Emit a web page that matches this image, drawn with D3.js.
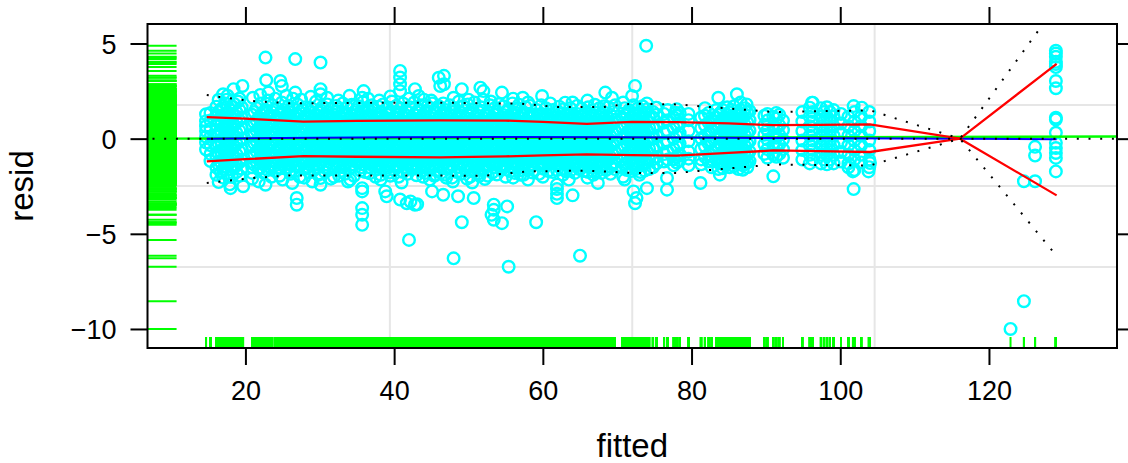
<!DOCTYPE html>
<html>
<head>
<meta charset="utf-8">
<script src="https://cdn.jsdelivr.net/npm/d3@7"></script>
<style>
  html, body { margin: 0; padding: 0; background: #ffffff; }
  svg { display: block; font-family: "Liberation Sans", Arial, Helvetica, sans-serif; }
</style>
</head>
<body>
<svg id="chart" width="1128" height="463"></svg>
<script>
// ---- data: residuals (in hundredths) grouped by fitted value ----
const colsLeft = [
  [14.7, [128, 92, 40, 10, -20, -57, 65]],
  [15.3, [135, 95, 52, 10, -35, -80, -118]],
  [16.1, [-152, -97, -41, 14, 69, 124, 168, -190]],
  [16.4, [-137, -80, -27, 30, 85, 140, 205, -228]],
  [16.7, [-124, -69, -12, 43, 98, 155, -175]],
  [17.0, [-160, -108, -55, 2, 57, 112, 160, -205]],
  [17.3, [-149, -94, -39, 16, 71, 126, 185]],
  [17.6, [-135, -82, -25, 28, 83, 138, -182, 226]],
  [17.9, [-122, -67, -14, 41, 96, 152, -240]],
  [18.2, [-162, -110, -53, 0, 55, 110, 170, -200]],
  [18.5, [-151, -96, -41, 14, 70, 124, 182]],
  [18.8, [-138, -83, -27, 30, 85, 138, -175]],
  [19.2, [-124, -69, -14, 41, 96, 150, -195, 210]],
  [19.5, [-158, -109, -55, 2, 57, 112, 165]]
];

const colsA = [
  [20.9, [-150, -95, -40, 15, 70, 125, -180]],
  [21.2, [-137, -82, -25, 30, 84, 140]],
  [21.5, [-122, -68, -14, 42, 96, 160]],
  [21.8, [-108, -53, 2, 55, 111, -160]],
  [22.1, [-151, -96, -39, 16, 71, 126, 185]],
  [22.4, [-135, -80, -27, 28, 85, 138, -178]],
  [22.7, [-124, -67, -12, 43, 98, 152]],
  [23.0, [-110, -55, 0, 57, 112, -165, 200]],
  [23.3, [-149, -94, -41, 14, 69, 124]],
  [23.6, [-136, -81, -26, 29, 84, 139, 175]],
  [24.0, [-123, -68, -13, 42, 97, -170]],
  [24.3, [-109, -54, 1, 56, 111, 158]],
  [24.6, [-152, -95, -40, 15, 72, 125, -195]],
  [24.9, [-135, -82, -25, 30, 83, 140, 190]],
  [25.2, [-122, -69, -12, 41, 98, 150]],
  [25.5, [-108, -53, 3, 55, 110, -158]],
  [25.8, [-150, -96, -40, 16, 70, 126, 172]],
  [26.1, [-137, -80, -26, 28, 85, 138, -185]],
  [26.4, [-124, -68, -14, 43, 96, 158, 210]],
  [26.7, [-110, -54, 0, 57, 112, -170]],
  [27.0, [-149, -95, -39, 15, 71, 124, 180]],
  [27.3, [-136, -81, -27, 29, 84, 139, -200]],
  [27.7, [-123, -67, -13, 42, 97, 152]],
  [28.0, [-109, -55, 1, 56, 111, 165, -160]],
  [28.3, [-151, -94, -40, 14, 70, 125]],
  [28.6, [-135, -82, -25, 30, 85, 140, -178]],
  [28.9, [-122, -68, -12, 41, 98, 160]],
  [29.2, [-108, -53, 2, 55, 110, -165]],
  [29.5, [-150, -96, -41, 16, 69, 126, 195]],
  [29.8, [-137, -80, -26, 28, 84, 138, -190]],
  [30.1, [-124, -69, -13, 43, 96, 150]],
  [30.4, [-110, -54, 0, 57, 112, 168]],
  [30.7, [-149, -95, -40, 15, 71, 124, -175]],
  [31.0, [-136, -81, -27, 29, 83, 139, 180]],
  [31.3, [-123, -67, -14, 42, 97, -162]],
  [31.6, [-109, -55, 1, 56, 111, 158]],
  [31.9, [-152, -94, -39, 14, 70, 125, -200]],
  [32.2, [-135, -82, -25, 30, 85, 140, 172]],
  [32.5, [-122, -68, -12, 41, 98, 155]],
  [32.8, [-108, -53, 3, 55, 110, -170]],
  [33.1, [-150, -96, -40, 16, 70, 126, 185]],
  [33.4, [-137, -80, -26, 28, 84, 138, -185]],
  [33.7, [-124, -69, -13, 43, 96, 165]],
  [34.0, [-110, -54, 0, 57, 112, -158]],
  [34.3, [-149, -95, -41, 15, 71, 124, 178]],
  [34.6, [-136, -81, -27, 29, 85, 139, -195]],
  [34.9, [-123, -67, -14, 42, 97, 150]],
  [35.2, [-109, -55, 2, 56, 111, 170]],
  [35.5, [-151, -94, -40, 14, 69, 125, -168]],
  [35.8, [-135, -82, -25, 30, 84, 140, 192]],
  [36.1, [-122, -68, -12, 41, 98, -175]],
  [36.4, [-108, -53, 1, 55, 110, 160]],
  [36.7, [-150, -96, -39, 16, 70, 126, -182]],
  [37.0, [-137, -80, -26, 28, 83, 138, 175]],
  [37.3, [-124, -69, -13, 43, 96, 155]],
  [37.6, [-110, -54, 0, 57, 112, -162]],
  [37.9, [-149, -95, -40, 15, 71, 124, 168]],
  [38.2, [-136, -81, -27, 29, 85, 139, -190]],
  [38.5, [-123, -67, -14, 42, 97, 180]],
  [38.8, [-109, -55, 2, 56, 111, -170]],
  [39.1, [-152, -94, -41, 14, 70, 125, 160]],
  [39.4, [-135, -82, -25, 30, 84, 140, -178]],
  [39.7, [-122, -68, -12, 41, 98, 195]],
  [40.0, [-108, -53, 3, 55, 110, -165]],
  [40.3, [-150, -96, -40, 16, 69, 126, 172]],
  [40.6, [-137, -80, -26, 28, 85, 138, -200]],
  [40.9, [-124, -69, -13, 43, 96, 158]],
  [41.2, [-110, -54, 0, 57, 112, -175, 185]],
  [41.5, [-149, -95, -39, 15, 71, 124]],
  [41.8, [-136, -81, -27, 29, 83, 139, -185]],
  [42.1, [-123, -67, -14, 42, 97, 165]],
  [42.4, [-109, -55, 1, 56, 111, -160]],
  [42.7, [-151, -94, -40, 14, 70, 125, 190]],
  [43.0, [-135, -82, -25, 30, 84, 140, -192]],
  [43.3, [-122, -68, -12, 41, 98, 150]],
  [43.6, [-108, -53, 2, 55, 110, -170, 175]],
  [43.9, [-150, -96, -41, 16, 70, 126]],
  [44.2, [-137, -80, -26, 28, 85, 138, -180]],
  [44.5, [-124, -69, -13, 43, 96, 170]],
  [44.8, [-110, -54, 0, 57, 112, -165]],
  [45.1, [-149, -95, -40, 15, 69, 124, 185]],
  [45.4, [-136, -81, -27, 29, 84, 139, -195]],
  [45.7, [-123, -67, -14, 42, 97, 160]]
];

const colsB = [
  [46.0, [-109, -54, 1, 56, 111, -165, 170]],
  [46.3, [-150, -95, -40, 15, 70, 125, -180]],
  [46.6, [-136, -81, -26, 29, 84, 139, 185]],
  [46.9, [-123, -68, -13, 42, 97, -190, 150]],
  [47.2, [-110, -55, 0, 57, 112, -160]],
  [47.5, [-151, -96, -39, 14, 71, 124, 175]],
  [47.8, [-137, -80, -27, 30, 85, 140, -205]],
  [48.1, [-122, -67, -14, 43, 96, 160]],
  [48.4, [-108, -53, 2, 55, 110, -175]],
  [48.7, [-149, -94, -41, 16, 69, 126, 195]],
  [49.0, [-135, -82, -25, 28, 83, 138, -185]],
  [49.3, [-124, -69, -12, 41, 98, 170]],
  [49.6, [-109, -54, 1, 56, 111, -168]],
  [49.9, [-150, -95, -40, 15, 70, 125, 180]],
  [50.2, [-136, -81, -26, 29, 84, 139, -200]],
  [50.5, [-123, -68, -13, 42, 97, 155]],
  [50.8, [-110, -55, 0, 57, 112, -170, 190]],
  [51.1, [-151, -96, -39, 14, 71, 124]],
  [51.4, [-137, -80, -27, 30, 85, 140, -182]],
  [51.7, [-122, -67, -14, 43, 96, 165]],
  [52.0, [-108, -53, 2, 55, 110, -160, 205]],
  [52.3, [-149, -94, -41, 16, 69, 126]],
  [52.6, [-135, -82, -25, 28, 83, 138, -195]],
  [52.9, [-124, -69, -12, 41, 98, 175]],
  [53.2, [-109, -54, 1, 56, 111, -178]],
  [53.5, [-150, -95, -40, 15, 70, 125, 160]],
  [53.8, [-136, -81, -26, 29, 84, 139, -188]],
  [54.1, [-123, -68, -13, 42, 97, 182]],
  [54.4, [-110, -55, 0, 57, 112, -165]],
  [54.7, [-151, -96, -39, 14, 71, 124, 170]],
  [55.0, [-137, -80, -27, 30, 85, 140, -200]],
  [55.3, [-122, -67, -14, 43, 96, 150]],
  [55.6, [-108, -53, 2, 55, 110, -172]],
  [55.9, [-149, -94, -41, 16, 69, 126, 185]],
  [56.2, [-135, -82, -25, 28, 83, 138, -180]],
  [56.5, [-124, -69, -12, 41, 98, 160]],
  [56.8, [-109, -54, 1, 56, 111, -168, 178]],
  [57.1, [-150, -95, -40, 15, 70, 125]],
  [57.4, [-136, -81, -26, 29, 84, 139, -190]],
  [57.7, [-123, -68, -13, 42, 97, 165]],
  [58.0, [-110, -55, 0, 57, 112, -160]],
  [58.3, [-140, -93, -42, 17, 68, 120, 172]],
  [58.6, [-134, -79, -28, 31, 82, 128, -178]],
  [58.9, [-121, -66, -11, 44, 95, -165]],
  [59.2, [-107, -52, 3, 54, 109, 150]],
  [59.5, [-138, -97, -38, 13, 72, 122, -185]],
  [59.8, [-130, -83, -24, 27, 86, 130, 175]],
  [60.1, [-125, -70, -15, 40, 99, -158]],
  [60.4, [-111, -56, -1, 58, 113, 160]],
  [60.7, [-135, -93, -42, 17, 68, 120, -170]],
  [61.0, [-130, -79, -28, 31, 82, 128]],
  [61.3, [-121, -66, -11, 44, 95, -175, 150]],
  [61.6, [-107, -52, 3, 54, 109]],
  [61.9, [-135, -97, -38, 13, 72, 122, -165]],
  [62.2, [-128, -83, -24, 27, 86, 130, 168]],
  [62.5, [-120, -70, -15, 40, 99, -160]],
  [62.8, [-111, -56, -1, 58, 113, 155]],
  [63.1, [-135, -93, -42, 17, 68, 120, -172]],
  [63.4, [-128, -79, -28, 31, 82, 128]],
  [63.7, [-120, -66, -11, 44, 95, -168, 160]],
  [64.0, [-107, -52, 3, 54, 109]],
  [64.3, [-135, -97, -38, 13, 72, 122, -180]],
  [64.6, [-128, -83, -24, 27, 86, 130, 172]],
  [64.9, [-120, -70, -15, 40, 99, -160]],
  [65.2, [-111, -56, -1, 58, 113, 158]],
  [65.5, [-138, -93, -42, 17, 68, 122, -170]],
  [65.8, [-130, -79, -28, 31, 82, 132]],
  [66.1, [-122, -66, -11, 44, 95, -175, 165]],
  [66.4, [-107, -52, 3, 54, 109]],
  [66.7, [-140, -97, -38, 13, 72, 125, -168]],
  [67.0, [-132, -83, -24, 27, 86, 136, 178]],
  [67.3, [-125, -70, -15, 40, 99, -172]],
  [67.6, [-111, -56, -1, 58, 113, 160]],
  [67.9, [-145, -93, -42, 17, 68, 125, -180]],
  [68.2, [-136, -79, -28, 31, 82, 139, 170]],
  [68.5, [-121, -66, -11, 44, 95, -165]],
  [68.8, [-107, -52, 3, 54, 109, 165]],
  [69.1, [-148, -97, -38, 13, 72, 125, -185]],
  [69.4, [-134, -83, -24, 27, 86, 139]],
  [69.7, [-125, -70, -15, 40, 99, -160, 175]]
];

const colsC = [
  [70.7, [-109, -54, 1, 56, 111, -150]],
  [71.0, [-135, -95, -40, 15, 70, 122, 160]],
  [71.3, [-128, -81, -26, 29, 84, 130, -165]],
  [71.6, [-120, -68, -13, 42, 97, 150]],
  [71.9, [-107, -52, 3, 54, 109, -170]],
  [72.2, [-135, -97, -38, 13, 72, 125, 175]],
  [72.5, [-128, -83, -24, 27, 86, 132, -160]],
  [72.8, [-120, -70, -15, 40, 99, 160]],
  [73.1, [-111, -56, -1, 58, 113, -175]],
  [73.4, [-138, -93, -42, 17, 68, 125, 170]],
  [73.7, [-130, -79, -28, 31, 82, 136, -168]],
  [74.0, [-122, -66, -11, 44, 95, 155]],
  [74.3, [-109, -54, 1, 56, 111, -160]],
  [74.8, [-109, -54, 1, 56, 111, -150, 140]],
  [75.3, [-96, -40, 15, 70, 125, -130, 163]],
  [76.3, [-81, -26, 29, 84, -120, 130]],
  [76.8, [-110, -68, -13, 42, 97, 150]],
  [77.6, [-109, -54, 1, 56, 111, -140]],
  [78.0, [-95, -40, 15, 70, 120, -125, 155]],
  [78.4, [-81, -26, 29, 84, -115, 135]],
  [79.6, [-105, -68, -13, 42, 97, -140, 130]],
  [81.3, [-109, -54, 1, 56, 111, -135]],
  [81.8, [-95, -40, 15, 70, 120, 160]],
  [82.3, [-81, -26, 29, 84, -120, 135]],
  [82.7, [-110, -68, -13, 42, 97, -150]],
  [83.3, [-109, -54, 1, 56, 111, 150]],
  [83.6, [-125, -95, -40, 15, 70, 125, -160]],
  [83.9, [-130, -81, -26, 29, 84, 135]],
  [84.2, [-120, -68, -13, 42, 97, 150, -155]],
  [84.5, [-109, -54, 1, 56, 111, -140]],
  [84.8, [-130, -95, -40, 15, 70, 125, 165]],
  [85.1, [-125, -81, -26, 29, 84, 138, -150]],
  [85.4, [-118, -68, -13, 42, 97, 150]],
  [85.7, [-109, -54, 1, 56, 111, -145, 170]],
  [86.0, [-130, -95, -40, 15, 70, 125]],
  [86.3, [-125, -81, -26, 29, 84, 138, -160]],
  [86.6, [-118, -68, -13, 42, 97, 150, 190]],
  [86.9, [-109, -54, 1, 56, 111, -140]],
  [87.2, [-130, -95, -40, 15, 70, 125, 160]],
  [87.5, [-125, -81, -26, 29, 84, 138, -150]],
  [87.8, [-118, -68, -13, 42, 97, 145]]
];

const colsD = [
  [89.8, [-80, -30, 20, 70, 120]],
  [90.2, [-100, -55, -5, 45, 95, 130]],
  [91.0, [-85, -35, 15, 65, 115, -198]],
  [91.4, [-95, -45, 5, 55, 105, 135]],
  [91.8, [-80, -30, 20, 70, 125]],
  [92.3, [-100, -55, -5, 45, 95]],
  [94.9, [-110, -60, -10, 40, 90, 140]],
  [95.9, [-130, -85, -35, 15, 65, 115, 163]],
  [96.3, [-110, -60, -10, 40, 90, 140, 189]],
  [97.4, [-130, -85, -35, 15, 65, 115, 160]],
  [97.8, [-110, -60, -10, 40, 90, 140]],
  [98.2, [-135, -85, -35, 15, 65, 115, 165]],
  [98.6, [-110, -60, -10, 40, 90, 140]],
  [99.1, [-130, -85, -35, 15, 65, 115, 150]],
  [100.1, [-120, -70, -20, 30, 80, 130]],
  [101.1, [-130, -85, -35, 15, 65, 115, -150]],
  [101.9, [-110, -60, -10, 40, 90, 140, -165]],
  [102.8, [-125, -85, -35, 15, 65, 115]],
  [103.9, [-110, -60, -10, 40, 90, 140, -150]]
];

const colsFar = [
  [122.9, [-1000]],
  [124.7, [-854, -224]],
  [126.2, [-43, -89, -224]],
  [129.0, [462, 447, 430, 404, 392, 376, 303, 265, 110, 101, 31, -22, -49, -75, -101, -172]]
];

// scattered observations away from the central band
const looseFitted = [
  22.7, 26.7, 30.1, 22.8, 24.7, 24.9, 19.6, 18.4, 17.0, 23.1, 26.7, 30.1, 30.1, 35.9, 35.7,
  40.8, 40.8, 40.8, 40.8, 42.8, 43.3, 46.0, 46.2, 46.7, 46.7, 49.1, 51.6, 52.0, 54.5, 57.3,
  59.9, 63.0, 68.4, 69.3, 72.4, 72.0, 73.9, 75.2, 77.8, 83.6, 86.1, 87.4, 96.2, 101.8, 102.9,
  21.0, 22.0, 24.0, 25.5, 27.5, 28.8, 31.0, 32.5, 34.0, 36.5, 38.0, 39.5, 42.0, 44.0, 45.0,
  48.0, 50.0, 53.0, 56.0, 58.0, 61.0, 64.0, 66.0, 70.8, 74.0, 17.5, 19.0,
  18.0, 19.7, 22.7, 26.3, 26.9, 26.9, 30.1, 30.1, 34.1, 35.7, 35.7, 35.7, 35.7, 35.7,
  38.8, 39.0, 40.8, 41.7, 42.2, 42.8, 43.1, 42.0, 45.1, 46.6, 48.0, 48.6, 49.1, 50.7, 53.1,
  53.4, 53.4, 53.4, 54.5, 55.2, 55.4, 59.1, 61.9, 61.9, 61.9, 61.9, 64.0, 65.0, 67.4, 72.2,
  72.6, 72.4, 74.0, 76.7, 76.7, 81.2, 83.8, 86.9, 101.8, 101.7, 103.8, 104.0,
  20.9, 21.8, 23.5, 25.0, 27.9, 29.0, 31.5, 32.6, 33.8, 37.5, 38.2, 39.5, 41.0, 43.9, 44.8,
  45.6, 47.0, 47.9, 49.8, 50.5, 51.5, 52.2, 56.0, 57.0, 58.0, 60.0, 62.7, 63.5, 66.0, 66.8,
  70.8, 71.0, 73.0
];
const looseResid = [
  426, 418, 400, 307, 303, 277, 277, 260, 233, 242, 242, 260, 233, 250, 215,
  356, 321, 286, 250, 260, 224, 320, 277, 330, 286, 260, 268, 250, 242, 215,
  224, 189, 242, 215, 277, 224, 488, 163, 136, 215, 233, 180, 189, 171, 163,
  215, 230, 210, 225, 205, 220, 215, 200, 225, 210, 200, 222, 210, 205, 200,
  215, 205, 195, 210, 190, 185, 190, 200, 190, 185, 205, 195,
  -260, -250, -242, -233, -312, -347, -242, -207, -215, -260, -277, -365, -400, -453,
  -277, -303, -320, -339, -330, -347, -345, -532, -277, -295, -629, -303, -439, -312, -400,
  -347, -374, -426, -444, -356, -673, -439, -242, -265, -290, -312, -298, -615, -233, -277,
  -312, -339, -260, -207, -268, -233, -189, -163, -265, -172, -172, -128,
  -210, -225, -200, -215, -205, -225, -210, -195, -225, -200, -215, -195, -230, -200, -215,
  -190, -205, -225, -210, -230, -195, -212, -205, -190, -215, -200, -190, -215, -205, -190,
  -200, -215, -190
];

// smooth summaries of the residuals: [fitted, value]
const meanSmooth = [[14.8, 0.0], [25, 0.03], [40, 0.07], [55, 0.09], [70, 0.08], [85, 0.05], [100, 0.02], [116, -0.01], [129.1, -0.03]];
const spreadUpper = [[14.8, 1.13], [20, 1.05], [27.8, 0.89], [35, 0.93], [46.2, 0.96], [55, 0.95], [60, 0.88], [65.9, 0.78], [72, 0.88], [78, 0.87], [85, 0.8], [91, 0.71], [97, 0.72], [104, 0.75], [116.1, 0], [129.1, 3.93]];
const spreadLower = [[14.8, -1.19], [20, -1.08], [27.8, -0.92], [35, -0.95], [46.2, -0.98], [55, -0.93], [60, -0.88], [65.9, -0.83], [72, -0.87], [78, -0.89], [85, -0.75], [91, -0.62], [97, -0.66], [104, -0.70], [116.1, 0], [129.1, -2.98]];
const bandUpper = [[14.8, 2.3], [16.6, 2.19], [20.9, 1.98], [25.9, 1.86], [35, 1.88], [46.2, 1.89], [57, 1.84], [62, 1.66], [68, 1.66], [72, 1.84], [78, 1.8], [91, 1.4], [104, 1.49], [116.1, 0], [129.1, 7.0]];
const bandLower = [[14.8, -2.33], [20.9, -2.07], [26, -1.93], [46.2, -1.94], [52, -1.95], [58, -1.72], [66, -1.68], [72, -1.8], [78, -1.8], [91, -1.36], [104, -1.41], [116.1, 0], [129.1, -6.16]];
const trendLine = [[6.83, 0.0], [137.22, 0.11]];

const xTicks = [20, 40, 60, 80, 100, 120];
const yTicks = [5, 0, -5, -10];
const xTitle = "fitted";
const yTitle = "resid";

// ---- layout ----
const svg = d3.select("#chart");
const P = { left: 147.5, right: 1117, top: 24, bottom: 348 };
const pw = P.right - P.left, ph = P.bottom - P.top;

const x = d3.scaleLinear().domain([6.83, 137.22]).range([P.left, P.right]);
const y = d3.scaleLinear().domain([-11.0, 6.025]).range([P.bottom, P.top]);

const points = [];
[colsLeft, colsA, colsB, colsC, colsD, colsFar].forEach(group => {
  group.forEach(([f, rs]) => rs.forEach(r => points.push({ f, r: r / 100 })));
});
looseFitted.forEach((f, i) => points.push({ f, r: looseResid[i] / 100 }));

svg.append("defs").append("clipPath").attr("id", "panelClip")
  .append("rect").attr("x", P.left).attr("y", P.top).attr("width", pw).attr("height", ph);

// background grid (quarters of the panel)
const grid = svg.append("g").attr("stroke", "#e6e6e6").attr("stroke-width", 2);
[1, 2, 3].forEach(k => {
  grid.append("line").attr("x1", P.left + pw * k / 4).attr("x2", P.left + pw * k / 4)
    .attr("y1", P.top).attr("y2", P.bottom);
  grid.append("line").attr("y1", P.top + ph * k / 4).attr("y2", P.top + ph * k / 4)
    .attr("x1", P.left).attr("x2", P.right);
});

const body = svg.append("g").attr("clip-path", "url(#panelClip)");

// observations
body.append("g").selectAll("circle").data(points).join("circle")
  .attr("cx", d => x(d.f)).attr("cy", d => y(d.r)).attr("r", 5.8)
  .attr("fill", "none").attr("stroke", "#00ffff").attr("stroke-width", 2.4);

// rugs
const rugY = body.append("g").attr("stroke", "#00ff00").attr("stroke-width", 2);
rugY.selectAll("line").data(points).join("line")
  .attr("x1", P.left).attr("x2", P.left + pw * 0.03)
  .attr("y1", d => y(d.r)).attr("y2", d => y(d.r));
const rugX = body.append("g").attr("stroke", "#00ff00").attr("stroke-width", 2);
rugX.selectAll("line").data(points).join("line")
  .attr("y1", P.bottom).attr("y2", P.bottom - ph * 0.034)
  .attr("x1", d => x(d.f)).attr("x2", d => x(d.f));

const line = d3.line().x(d => x(d[0])).y(d => y(d[1]));

body.append("path").datum(trendLine).attr("d", line)
  .attr("fill", "none").attr("stroke", "#00ff00").attr("stroke-width", 2.4);
body.append("path").datum(meanSmooth).attr("d", line)
  .attr("fill", "none").attr("stroke", "#0000ff").attr("stroke-width", 2);
[spreadUpper, spreadLower].forEach(s => body.append("path").datum(s).attr("d", line)
  .attr("fill", "none").attr("stroke", "#ff0000").attr("stroke-width", 2.3));
[bandUpper, bandLower].forEach(s => body.append("path").datum(s).attr("d", line)
  .attr("fill", "none").attr("stroke", "#000000").attr("stroke-width", 2)
  .attr("stroke-dasharray", "2,9.7"));
body.append("path").datum([[x.domain()[0], 0], [x.domain()[1], 0]]).attr("d", line)
  .attr("fill", "none").attr("stroke", "#000000").attr("stroke-width", 2)
  .attr("stroke-dasharray", "2,9.7").attr("stroke-dashoffset", -5);

// panel border
svg.append("rect").attr("x", P.left).attr("y", P.top).attr("width", pw).attr("height", ph)
  .attr("fill", "none").attr("stroke", "#000").attr("stroke-width", 2);

// axes
const fmt = d3.format("d");
function styleAxis(g) {
  g.select(".domain").remove();
  g.selectAll(".tick line").attr("stroke", "#000").attr("stroke-width", 2);
  g.selectAll(".tick text").attr("fill", "#000").attr("font-size", 27)
    .attr("font-family", "'Liberation Sans', Arial, Helvetica, sans-serif");
}
svg.append("g").attr("transform", `translate(0,${P.bottom})`)
  .call(d3.axisBottom(x).tickValues(xTicks).tickFormat(fmt).tickSize(17).tickPadding(16))
  .call(styleAxis);
svg.append("g").attr("transform", `translate(0,${P.top})`)
  .call(d3.axisTop(x).tickValues(xTicks).tickFormat("").tickSize(17))
  .call(styleAxis);
svg.append("g").attr("transform", `translate(${P.left},0)`)
  .call(d3.axisLeft(y).tickValues(yTicks).tickFormat(fmt).tickSize(17).tickPadding(14))
  .call(styleAxis)
  .selectAll(".tick text").attr("dy", "0.36em");
svg.append("g").attr("transform", `translate(${P.right},0)`)
  .call(d3.axisRight(y).tickValues(yTicks).tickFormat("").tickSize(17))
  .call(styleAxis);

// axis titles
svg.append("text").attr("x", (P.left + P.right) / 2).attr("y", 457)
  .attr("text-anchor", "middle").attr("font-size", 33).attr("fill", "#000").text(xTitle);
svg.append("text").attr("transform", `translate(33,${(P.top + P.bottom) / 2}) rotate(-90)`)
  .attr("text-anchor", "middle").attr("font-size", 33).attr("fill", "#000").text(yTitle);
</script>
</body>
</html>
